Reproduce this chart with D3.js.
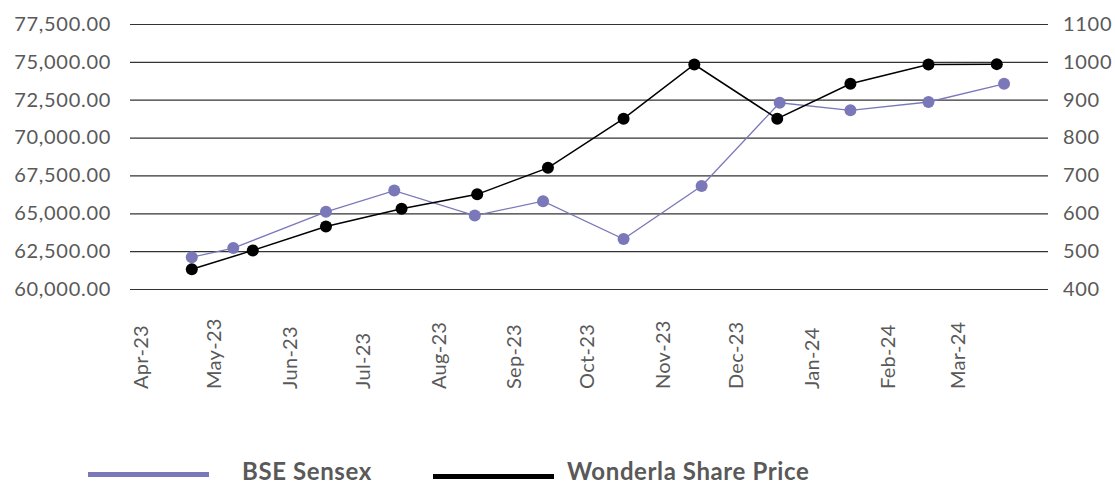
<!DOCTYPE html>
<html>
<head>
<meta charset="utf-8">
<script src="https://cdn.jsdelivr.net/npm/d3@7"></script>
<style>
  body { margin: 0; background: #fff; }
  svg text { font-family: Lato, "Open Sans", sans-serif; fill: #595959; }
</style>
</head>
<body>
<div id="chart"></div>
<script>
'use strict';

const monthLabels = ['Apr-23', 'May-23', 'Jun-23', 'Jul-23', 'Aug-23', 'Sep-23',
  'Oct-23', 'Nov-23', 'Dec-23', 'Jan-24', 'Feb-24', 'Mar-24'];

const sensexDates = ['2023-04-22', '2023-05-09', '2023-06-16', '2023-07-14', '2023-08-16', '2023-09-13',
  '2023-10-16', '2023-11-17', '2023-12-19', '2024-01-17', '2024-02-18', '2024-03-20'];
const sensexValues = [62100, 62700, 65100, 66500, 64850, 65800, 63300, 66800, 72300, 71800, 72350, 73550];

const wonderlaDates = ['2023-04-22', '2023-05-17', '2023-06-16', '2023-07-17', '2023-08-17', '2023-09-15',
  '2023-10-16', '2023-11-14', '2023-12-18', '2024-01-17', '2024-02-18', '2024-03-17'];
const wonderlaValues = [452, 502, 565, 612, 650, 720, 850, 993, 850, 942, 993, 994];

const legendNames = ['BSE Sensex', 'Wonderla Share Price'];
const colors = ['#7b78b9', '#000000'];

const W = 1115, H = 482;
const margin = { top: 24, left: 130, right: 67, bottom: 193 };
const width = W - margin.left - margin.right;
const height = H - margin.top - margin.bottom;

const parseDay = d3.timeParse('%Y-%m-%d');
const parseMonth = d3.timeParse('%b-%y');

const svg = d3.select('#chart').append('svg')
    .attr('width', W)
    .attr('height', H);

const graph = svg.append('g')
    .attr('transform', `translate(${margin.left}, ${margin.top})`);

const x = d3.scaleTime()
    .domain([new Date(2023, 2, 27, 16), new Date(2024, 3, 7)])
    .range([0, width]);
const yLeft = d3.scaleLinear().domain([60000, 77500]).range([height, 0]);
const yRight = d3.scaleLinear().domain([400, 1100]).range([height, 0]);

function styleTicks(sel) {
  sel.selectAll('text')
      .style('font-size', '20px')
      .style('letter-spacing', '0.7px')
      .style('fill', '#595959');
}

// left axis + gridlines
const leftAxis = graph.append('g')
    .call(d3.axisLeft(yLeft)
      .tickValues(d3.range(60000, 77501, 2500))
      .tickFormat(d3.format(',.2f'))
      .tickSize(-width)
      .tickPadding(19));
leftAxis.select('.domain').remove();
leftAxis.selectAll('line').attr('stroke', '#333').attr('stroke-width', 1.2);
styleTicks(leftAxis);

const rightAxis = graph.append('g')
    .attr('transform', `translate(${width}, 0)`)
    .call(d3.axisRight(yRight)
      .tickValues(d3.range(400, 1101, 100))
      .tickFormat(d3.format('d'))
      .tickSize(0)
      .tickPadding(15));
rightAxis.select('.domain').remove();
styleTicks(rightAxis);

const xAxis = graph.append('g')
    .attr('transform', `translate(0, ${height})`)
    .call(d3.axisBottom(x)
      .tickValues(monthLabels.map(parseMonth))
      .tickFormat(d3.timeFormat('%b-%y'))
      .tickSize(0));
xAxis.select('.domain').remove();
styleTicks(xAxis);
xAxis.selectAll('text')
    .attr('y', 0)
    .attr('x', 0)
    .attr('dy', '0.35em')
    .attr('transform', 'translate(0, 100) rotate(-90)')
    .style('text-anchor', 'start')
    .style('letter-spacing', '0.3px');

const series = [
  { dates: sensexDates, values: sensexValues, y: yLeft, color: colors[0], lw: 1.3 },
  { dates: wonderlaDates, values: wonderlaValues, y: yRight, color: colors[1], lw: 1.5 }
];

series.forEach(s => {
  const pts = s.dates.map((d, i) => ({ date: parseDay(d), value: s.values[i] }));
  const line = d3.line().x(d => x(d.date)).y(d => s.y(d.value));
  graph.append('path')
      .datum(pts)
      .attr('fill', 'none')
      .attr('stroke', s.color)
      .attr('stroke-width', s.lw)
      .attr('d', line);
  graph.selectAll(null)
      .data(pts)
      .enter().append('circle')
      .attr('cx', d => x(d.date))
      .attr('cy', d => s.y(d.value))
      .attr('r', 6)
      .attr('fill', s.color);
});

// legend
const legendX = [88, 433];
const legend = svg.append('g');
legendNames.forEach((name, i) => {
  legend.append('rect')
      .attr('x', legendX[i])
      .attr('y', 472 + i * 2)
      .attr('width', 121)
      .attr('height', 5)
      .attr('fill', colors[i]);
  legend.append('text')
      .attr('x', legendX[i] + (i === 0 ? 154 : 134))
      .attr('y', 480)
      .style('font-size', '24px')
      .style('font-weight', 'bold')
      .style('letter-spacing', '0.6px')
      .style('fill', '#595959')
      .text(name);
});
</script>
</body>
</html>
